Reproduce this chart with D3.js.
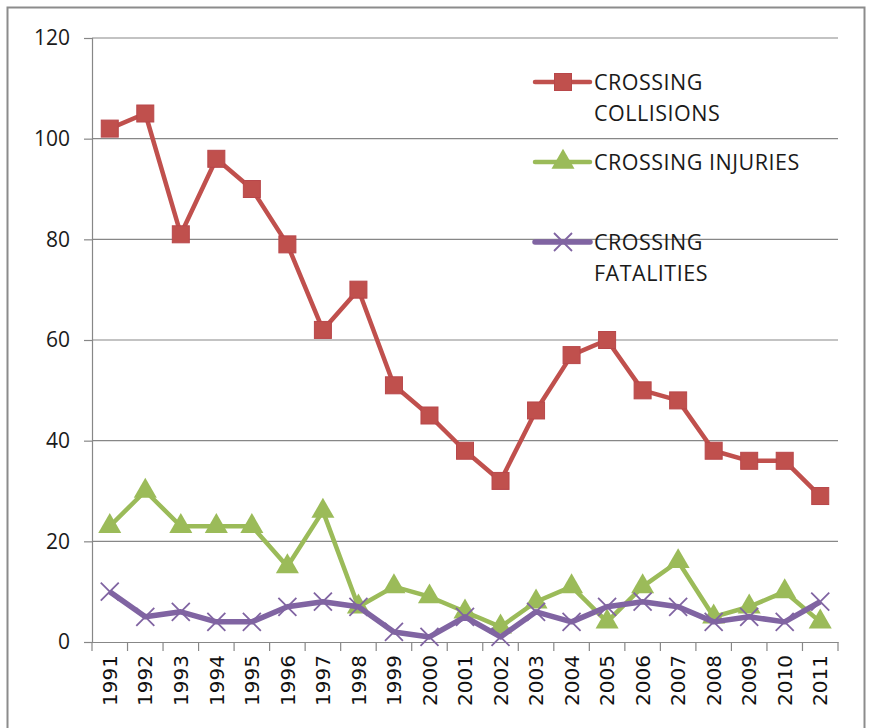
<!DOCTYPE html>
<html><head><meta charset="utf-8">
<script src="https://cdn.jsdelivr.net/npm/d3@7"></script>
<style>body{margin:0;background:#fff}svg{display:block}</style>
</head><body>
<svg id="c" width="870" height="728"></svg>
<script>
const years = ["1991","1992","1993","1994","1995","1996","1997","1998","1999","2000","2001","2002","2003","2004","2005","2006","2007","2008","2009","2010","2011"];
const collisions = [102,105,81,96,90,79,62,70,51,45,38,32,46,57,60,50,48,38,36,36,29];
const injuries = [23,30,23,23,23,15,26,7,11,9,6,3,8,11,4,11,16,5,7,10,4];
const fatalities = [10,5,6,4,4,7,8,7,2,1,5,1,6,4,7,8,7,4,5,4,8];
const yTicks = [0,20,40,60,80,100,120];
const seriesNames = [["CROSSING","COLLISIONS"],["CROSSING INJURIES"],["CROSSING","FATALITIES"]];

const svg = d3.select("#c");
svg.append("rect").attr("x",7.5).attr("y",7.5).attr("width",857).attr("height",740)
  .attr("fill","#fff").attr("stroke","#8c8c8c").attr("stroke-width",2);

const L=92, R=838, T=38, B=642;
const x = d3.scaleBand().domain(years).range([L,R]);
const y = d3.scaleLinear().domain([0,120]).range([B,T]);
const grid="#878787";

svg.append("g").selectAll("line").data(yTicks.filter(d=>d>0)).join("line")
  .attr("x1",L).attr("x2",R).attr("y1",d=>y(d)).attr("y2",d=>y(d))
  .attr("stroke",grid).attr("stroke-width",1.2);

const ya = svg.append("g").attr("transform",`translate(${L},0)`)
  .call(d3.axisLeft(y).tickValues(yTicks).tickSize(8).tickPadding(14));
ya.select(".domain").attr("stroke",grid).attr("stroke-width",1.2);
ya.selectAll(".tick line").attr("stroke",grid).attr("stroke-width",1.2);
ya.selectAll("text").attr("font-family","Open Sans").attr("font-size",21).attr("fill","#1a1a1a");

const xa = svg.append("g").attr("transform",`translate(0,${B})`)
  .call(d3.axisBottom(x).tickSize(0));
xa.select(".domain").attr("stroke",grid).attr("stroke-width",1.2);
xa.selectAll(".tick line").remove();
xa.selectAll(".tick text")
  .attr("font-family","DejaVu Sans").attr("font-size",20).attr("fill","#111")
  .attr("transform","rotate(-90)").attr("text-anchor","end")
  .attr("x",-13).attr("y",0).attr("dy","0.36em");
const bounds = years.map(d=>x(d)).concat([R]);
svg.append("g").selectAll("line").data(bounds).join("line")
  .attr("x1",d=>d).attr("x2",d=>d).attr("y1",B).attr("y2",B+9)
  .attr("stroke",grid).attr("stroke-width",1.2);

const cx = d=>x(d)+x.bandwidth()/2;
const colors = ["#C0504D","#9BBB59","#8064A2"];
const data = [collisions,injuries,fatalities];

const line = d3.line().x((v,i)=>cx(years[i])).y(v=>y(v));

function marker(g,type,px,py,col){
  if(type===0){
    g.append("rect").attr("x",px-8.5).attr("y",py-8.5).attr("width",17).attr("height",17)
      .attr("fill",col).attr("stroke","#b8474a").attr("stroke-width",1);
  } else if(type===1){
    g.append("path").attr("d",d3.symbol(d3.symbolTriangle,230)())
      .attr("transform",`translate(${px},${py})`).attr("fill",col);
  } else {
    const s=9;
    g.append("path").attr("d",`M${px-s},${py-s}L${px+s},${py+s}M${px-s},${py+s}L${px+s},${py-s}`)
      .attr("stroke",col).attr("stroke-width",1.8).attr("fill","none");
  }
}

data.forEach((vals,k)=>{
  const g = svg.append("g");
  g.append("path").datum(vals).attr("d",line).attr("fill","none")
    .attr("stroke",colors[k]).attr("stroke-width",k===2?5.5:4.5).attr("stroke-linejoin","round");
  vals.forEach((v,i)=>marker(g,k,cx(years[i]),y(v),colors[k]));
});

const legY=[82,162,242];
seriesNames.forEach((names,k)=>{
  const g=svg.append("g");
  g.append("line").attr("x1",535).attr("x2",590).attr("y1",legY[k]).attr("y2",legY[k])
    .attr("stroke",colors[k]).attr("stroke-width",k===2?5.5:4.5).attr("stroke-linecap","round");
  marker(g,k,563,legY[k],colors[k]);
  names.forEach((t,j)=>{
    g.append("text").attr("x",594).attr("y",legY[k]+8+j*31).text(t)
      .attr("font-family","Open Sans").attr("font-size",21.5).attr("letter-spacing","0.5px").attr("fill","#1a1a1a");
  });
});
</script>
</body></html>
